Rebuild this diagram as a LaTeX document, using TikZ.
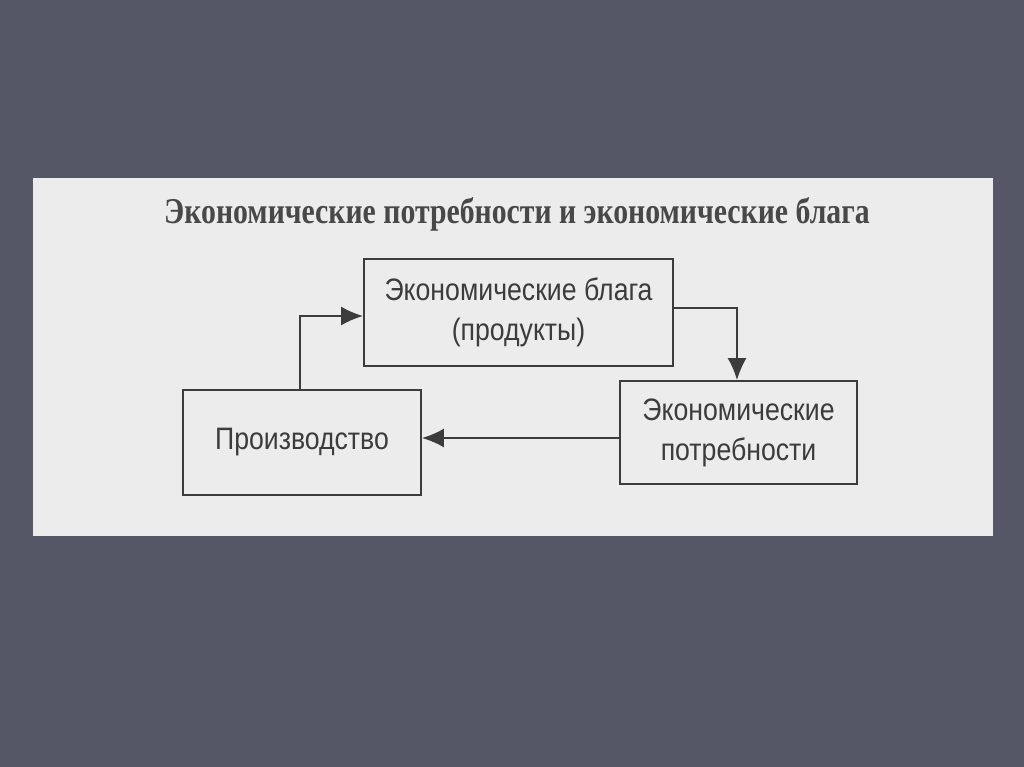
\documentclass[tikz,border=0pt]{standalone}
\usepackage{fontspec}
\setmainfont{Liberation Sans}
\newfontfamily\boxfont[FakeStretch=0.86]{Liberation Sans}
\newfontfamily\titlefont[FakeStretch=0.82]{Liberation Serif}
\usetikzlibrary{arrows.meta}
\definecolor{bgc}{HTML}{555766}
\definecolor{panelc}{HTML}{ECECEC}
\definecolor{inkc}{HTML}{3C3C3C}
\definecolor{titlec}{HTML}{484848}
\tikzset{
  blk/.style={draw=inkc, line width=1.8pt, inner sep=0pt, text=inkc, font=\boxfont\fontsize{31}{40}\selectfont, align=center},
  conn/.style={draw=inkc, line width=1.8pt, -{Latex[length=22pt,width=19pt]}},
}
\begin{document}
\begin{tikzpicture}[x=1pt,y=-1pt]
\useasboundingbox (0,0) rectangle (1024,767);
\fill[bgc] (0,0) rectangle (1024,767);
\fill[panelc] (33,178) rectangle (993,536);
\node[text=titlec, font=\titlefont\bfseries\fontsize{36.3}{42}\selectfont, anchor=center] (title) at (517,214) {Экономические потребности и экономические блага};
\node[blk, minimum width=309pt, minimum height=107pt] (goods) at (518.5,312.5) {Экономические блага\\(продукты)};
\node[blk, minimum width=238pt, minimum height=105pt] (prod) at (302,442.5) {Производство};
\node[blk, minimum width=237pt, minimum height=103pt] (needs) at (738.5,432.5) {Экономические\\потребности};
\coordinate (c1) at (300,316);
\coordinate (c2) at (737,308);
\draw[conn] (prod.north -| c1) |- (goods.west |- c1);
\draw[conn] (goods.east |- c2) -| (needs.north -| c2);
\draw[conn] (needs.west |- 0,438) -- (prod.east |- 0,438);
\end{tikzpicture}
\end{document}
